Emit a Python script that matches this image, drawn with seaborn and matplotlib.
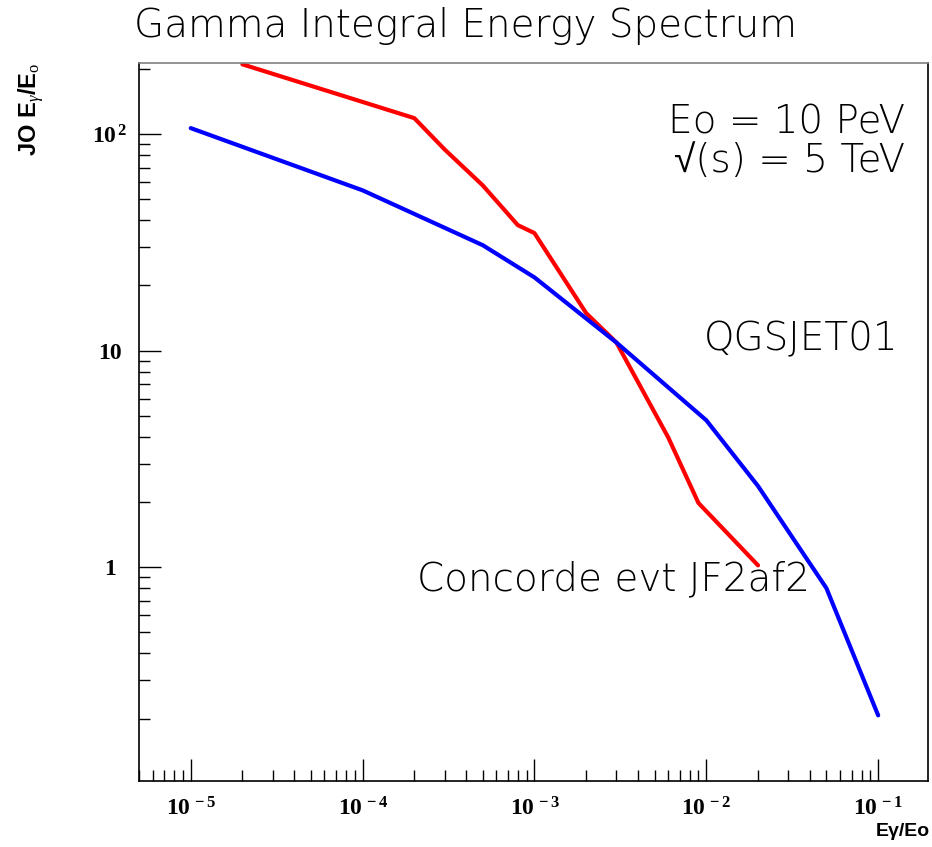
import numpy as np
import pandas as pd
import matplotlib
matplotlib.use("Agg")
import matplotlib.pyplot as plt
import matplotlib.ticker as mticker
import seaborn as sns

# ---- data ----
red_x = [2e-5, 2e-4, 3e-4, 5e-4, 8e-4, 1e-3, 2e-3, 3e-3, 6e-3, 9e-3, 2e-2]
red_y = [210, 118.5, 85, 58, 38, 34.9, 14.9, 10.9, 3.98, 1.98, 1.02]
blue_x = [1e-5, 1e-4, 5e-4, 1e-3, 3e-3, 1e-2, 2e-2, 5e-2, 1e-1]
blue_y = [106.6, 55, 30.7, 21.8, 10.9, 4.77, 2.37, 0.80, 0.207]

x_ticks = [1e-5, 1e-4, 1e-3, 1e-2, 1e-1]
x_tick_labels = [r"$\mathregular{10^{\,-5}}$", r"$\mathregular{10^{\,-4}}$",
                 r"$\mathregular{10^{\,-3}}$", r"$\mathregular{10^{\,-2}}$",
                 r"$\mathregular{10^{\,-1}}$"]
y_ticks = [1, 10, 100]
y_tick_labels = ["1", "10", r"$\mathregular{10^{\,2}}$"]

title = "Gamma Integral Energy Spectrum"

sns.set_theme(style="white")
plt.rcParams["font.family"] = ["DejaVu Sans", "Liberation Sans"]
plt.rcParams["mathtext.fontset"] = "custom"
plt.rcParams["mathtext.rm"] = "Liberation Serif"
plt.rcParams["mathtext.it"] = "Liberation Serif:italic"
plt.rcParams["mathtext.bf"] = "Liberation Serif:bold"

df = pd.concat([
    pd.DataFrame({"x": red_x, "y": red_y, "s": "Concorde"}),
    pd.DataFrame({"x": blue_x, "y": blue_y, "s": "QGSJET01"}),
])

fig = plt.figure(figsize=(9.32, 8.47), dpi=100)
ax = fig.add_axes([139/932, 1-781/847, 789/932, 718/847])

sns.lineplot(data=df, x="x", y="y", hue="s", palette={"Concorde": "#ff0000", "QGSJET01": "#0000ff"},
             sort=False, estimator=None, linewidth=3.0, legend=False, ax=ax)

ax.set_xscale("log")
ax.set_yscale("log")
ax.set_xlim(5e-6, 0.195)
ax.set_ylim(0.103, 213)

ax.xaxis.set_major_locator(mticker.FixedLocator(x_ticks))
ax.xaxis.set_major_formatter(mticker.FixedFormatter(x_tick_labels))
ax.yaxis.set_major_locator(mticker.FixedLocator(y_ticks))
ax.yaxis.set_major_formatter(mticker.FixedFormatter(y_tick_labels))
ax.xaxis.set_minor_locator(mticker.LogLocator(base=10, subs=np.arange(2, 10), numticks=20))
ax.yaxis.set_minor_locator(mticker.LogLocator(base=10, subs=np.arange(2, 10), numticks=20))
ax.xaxis.set_minor_formatter(mticker.NullFormatter())
ax.yaxis.set_minor_formatter(mticker.NullFormatter())

ax.tick_params(axis="both", which="both", direction="in", color="black", width=1.0,
               bottom=True, left=True, top=False, right=False)
ax.tick_params(axis="both", which="major", length=16, labelsize=17)
ax.tick_params(axis="both", which="minor", length=8)
ax.tick_params(axis="x", which="major", pad=12)
ax.tick_params(axis="y", which="major", pad=21)
for lbl in ax.get_yticklabels():
    lbl.set_ha("center")
for lbl in ax.get_xticklabels() + ax.get_yticklabels():
    lbl.set_family(["Liberation Serif"])
    lbl.set_fontweight("bold")
    lbl.set_color("black")

for side in ["left", "bottom", "right"]:
    ax.spines[side].set_color("black")
    ax.spines[side].set_linewidth(1.2)
ax.spines["top"].set_color("#808080")
ax.spines["top"].set_linewidth(1.2)
ax.grid(False)

ax.set_xlabel("E\u03b3/Eo", family=["Liberation Sans"], fontweight="bold", fontsize=14,
              loc="right", color="black")
ax.xaxis.set_label_coords(1.0025, -0.058)
ax.set_ylabel(r"JO E$_{\gamma}$/E$_{\mathrm{o}}$", family=["Liberation Sans"], fontweight="bold",
              fontsize=17, loc="top", color="black")
ax.yaxis.set_label_coords(-0.118, 1.0)

light = dict(family=["DejaVu Sans", "Liberation Sans"], fontweight=200, color="black")
fig.text(0.5, 1-37/847, title, ha="center", va="baseline", fontsize=28, **light)

tkw = dict(transform=ax.transAxes, fontsize=28, **light)
ax.text(0.971, 0.9025, "Eo = 10 PeV", ha="right", va="baseline", **tkw)
ax.text(0.971, 0.848, "\u221a(s) = 5 TeV", ha="right", va="baseline", **tkw)
ax.text(0.962, 0.600, "QGSJET01", ha="right", va="baseline", **tkw)
ax.text(0.3523, 0.266, "Concorde evt JF2af2", ha="left", va="baseline", **tkw)

fig.savefig("out.png", dpi=100, facecolor="white")
